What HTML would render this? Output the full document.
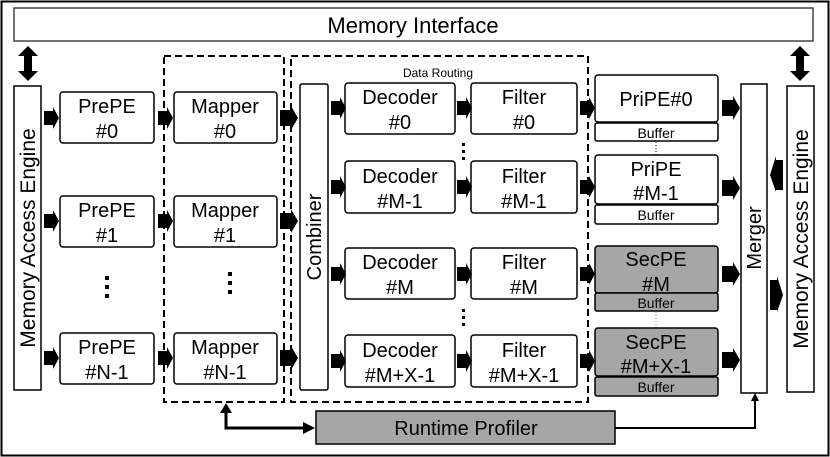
<!DOCTYPE html>
<html><head><meta charset="utf-8"><style>
html,body{margin:0;padding:0;background:#fff}
svg{display:block}
text{font-family:"Liberation Sans",Arial,sans-serif;fill:#000}
</style></head><body>
<svg width="830" height="457" viewBox="0 0 830 457" xmlns="http://www.w3.org/2000/svg">
<defs>
<path id="ar" d="M0,-7 H9 V-11 L15,0 L9,11 V7 H0 Z" fill="#000"/>
<path id="arb" d="M0,-8 H11 V-12 L18,0 L11,12 V8 H0 Z" fill="#000"/>
</defs>
<rect x="1.5" y="1.5" width="827" height="454" fill="none" stroke="#000" stroke-width="2"/>
<!-- Memory interface -->
<rect x="14" y="8" width="799" height="33" fill="#fff" stroke="#444" stroke-width="1.5"/>
<text x="413" y="33" font-size="22" text-anchor="middle">Memory Interface</text>
<!-- double arrows -->
<g fill="#000">
<polygon points="28,46 38,56 32,56 32,71 38,71 28,81 18,71 24,71 24,56 18,56"/>
<polygon points="800,46 810,56 804,56 804,71 810,71 800,81 790,71 796,71 796,56 790,56"/>
</g>
<!-- MAE left/right -->
<rect x="14" y="86" width="27" height="304" fill="#fff" stroke="#000" stroke-width="1.5"/>
<text transform="translate(35,238) rotate(-90)" font-size="21" text-anchor="middle">Memory Access Engine</text>
<rect x="787" y="86" width="27" height="306" fill="#fff" stroke="#000" stroke-width="1.5"/>
<text transform="translate(808,239) rotate(-90)" font-size="21" text-anchor="middle">Memory Access Engine</text>
<!-- dashed boxes -->
<rect x="164" y="56" width="120" height="346" fill="none" stroke="#000" stroke-width="2" stroke-dasharray="7,4"/>
<rect x="291" y="56" width="297" height="346" fill="none" stroke="#000" stroke-width="2" stroke-dasharray="7,4"/>
<text x="438" y="77" font-size="12" text-anchor="middle">Data Routing</text>
<g fill="#fff" stroke="#000" stroke-width="1.5">
<rect x="60" y="92" width="94" height="51" rx="3"/>
<rect x="60" y="196" width="94" height="51" rx="3"/>
<rect x="60" y="333" width="94" height="51" rx="3"/>
<rect x="174" y="92" width="103" height="51" rx="3"/>
<rect x="174" y="196" width="103" height="51" rx="3"/>
<rect x="174" y="333" width="103" height="51" rx="3"/>
<rect x="300" y="84" width="28" height="306" rx="2"/>
<rect x="345" y="83" width="110" height="51" rx="3"/>
<rect x="345" y="161" width="110" height="52" rx="3"/>
<rect x="345" y="248" width="110" height="51" rx="3"/>
<rect x="345" y="335" width="110" height="52" rx="3"/>
<rect x="471" y="83" width="106" height="51" rx="3"/>
<rect x="471" y="161" width="106" height="52" rx="3"/>
<rect x="471" y="248" width="106" height="51" rx="3"/>
<rect x="471" y="335" width="106" height="52" rx="3"/>
<rect x="595" y="75" width="123" height="47" rx="3"/>
<rect x="595" y="123" width="123" height="18" rx="2"/>
<rect x="595" y="155" width="123" height="49" rx="3"/>
<rect x="595" y="205" width="123" height="19" rx="2"/>
<rect x="741" y="84" width="26" height="309"/>
</g>
<g fill="#a6a6a6" stroke="#000" stroke-width="1.5">
<rect x="595" y="246" width="123" height="47" rx="3"/>
<rect x="595" y="293" width="123" height="18" rx="2"/>
<rect x="595" y="328" width="123" height="48" rx="3"/>
<rect x="595" y="377" width="123" height="19" rx="2"/>
<rect x="316" y="411" width="299" height="33"/>
</g>
<g font-size="20" text-anchor="middle">
<text x="107" y="113">PrePE</text><text x="107" y="138">#0</text>
<text x="107" y="217">PrePE</text><text x="107" y="242">#1</text>
<text x="107" y="354">PrePE</text><text x="107" y="379">#N-1</text>
<text x="225" y="113">Mapper</text><text x="225" y="138">#0</text>
<text x="225" y="217">Mapper</text><text x="225" y="242">#1</text>
<text x="225" y="354">Mapper</text><text x="225" y="379">#N-1</text>
<text x="400" y="104">Decoder</text><text x="400" y="129">#0</text>
<text x="400" y="183">Decoder</text><text x="400" y="208">#M-1</text>
<text x="400" y="269">Decoder</text><text x="400" y="294">#M</text>
<text x="400" y="357">Decoder</text><text x="400" y="382">#M+X-1</text>
<text x="524" y="104">Filter</text><text x="524" y="129">#0</text>
<text x="524" y="183">Filter</text><text x="524" y="208">#M-1</text>
<text x="524" y="269">Filter</text><text x="524" y="294">#M</text>
<text x="524" y="357">Filter</text><text x="524" y="382">#M+X-1</text>
<text x="656" y="106">PriPE#0</text>
<text x="656" y="176">PriPE</text><text x="656" y="200">#M-1</text>
<text x="656" y="266">SecPE</text><text x="656" y="291">#M</text>
<text x="656" y="349">SecPE</text><text x="656" y="373">#M+X-1</text>
<text x="466" y="435">Runtime Profiler</text>
</g>
<g font-size="14" text-anchor="middle">
<text x="656" y="138">Buffer</text>
<text x="656" y="220">Buffer</text>
<text x="656" y="308">Buffer</text>
<text x="656" y="392">Buffer</text>
</g>
<text transform="translate(321,237) rotate(-90)" font-size="20" text-anchor="middle">Combiner</text>
<text transform="translate(761,238) rotate(-90)" font-size="20" text-anchor="middle">Merger</text>
<!-- vertical dots -->
<g fill="#000">
<rect x="105" y="276" width="4" height="4"/><rect x="105" y="285" width="4" height="4"/><rect x="105" y="294" width="4" height="4"/>
<rect x="228" y="272" width="4" height="4"/><rect x="228" y="281" width="4" height="4"/><rect x="228" y="290" width="4" height="4"/>
<rect x="462" y="143" width="3" height="3"/><rect x="462" y="150" width="3" height="3"/><rect x="462" y="157" width="3" height="3"/>
<rect x="462" y="309" width="3" height="3"/><rect x="462" y="316" width="3" height="3"/><rect x="462" y="323" width="3" height="3"/>
</g>
<line x1="656" y1="142" x2="656" y2="155" stroke="#000" stroke-width="1" stroke-dasharray="1,2"/>
<line x1="656" y1="312" x2="656" y2="327" stroke="#4a7fd0" stroke-width="1" stroke-dasharray="1,2"/>
<!-- arrows -->
<use href="#ar" x="44" y="118"/><use href="#ar" x="44" y="221"/><use href="#ar" x="44" y="358"/>
<use href="#ar" x="158" y="118"/><use href="#ar" x="158" y="221"/><use href="#ar" x="158" y="358"/>
<use href="#arb" x="280" y="118"/><use href="#arb" x="280" y="221"/><use href="#arb" x="280" y="358"/>
<use href="#ar" x="331" y="108"/><use href="#ar" x="331" y="187"/><use href="#ar" x="331" y="274"/><use href="#ar" x="331" y="361"/>
<use href="#ar" x="457" y="108"/><use href="#ar" x="457" y="187"/><use href="#ar" x="457" y="274"/><use href="#ar" x="457" y="361"/>
<use href="#ar" x="580" y="108"/><use href="#ar" x="580" y="187"/><use href="#ar" x="580" y="274"/><use href="#ar" x="580" y="361"/>
<use href="#arb" x="722" y="108"/><use href="#arb" x="722" y="188"/><use href="#arb" x="722" y="274"/><use href="#arb" x="722" y="360"/>
<polygon points="783,160 776,160 776,156 770,175 776,192 776,190 783,190" fill="#000"/>
<polygon points="770,280 777,280 777,276 783,295 777,312 777,310 770,310" fill="#000"/>
<!-- profiler connectors -->
<polyline points="615,428 755,428 755,400" fill="none" stroke="#000" stroke-width="2"/>
<polygon points="751,401 759,401 755,393" fill="#000"/>
<polyline points="226,410 226,428 306,428" fill="none" stroke="#000" stroke-width="3"/>
<polygon points="220,413 232,413 226,403" fill="#000"/>
<polygon points="303,422 303,434 315,428" fill="#000"/>
</svg>
</body></html>
